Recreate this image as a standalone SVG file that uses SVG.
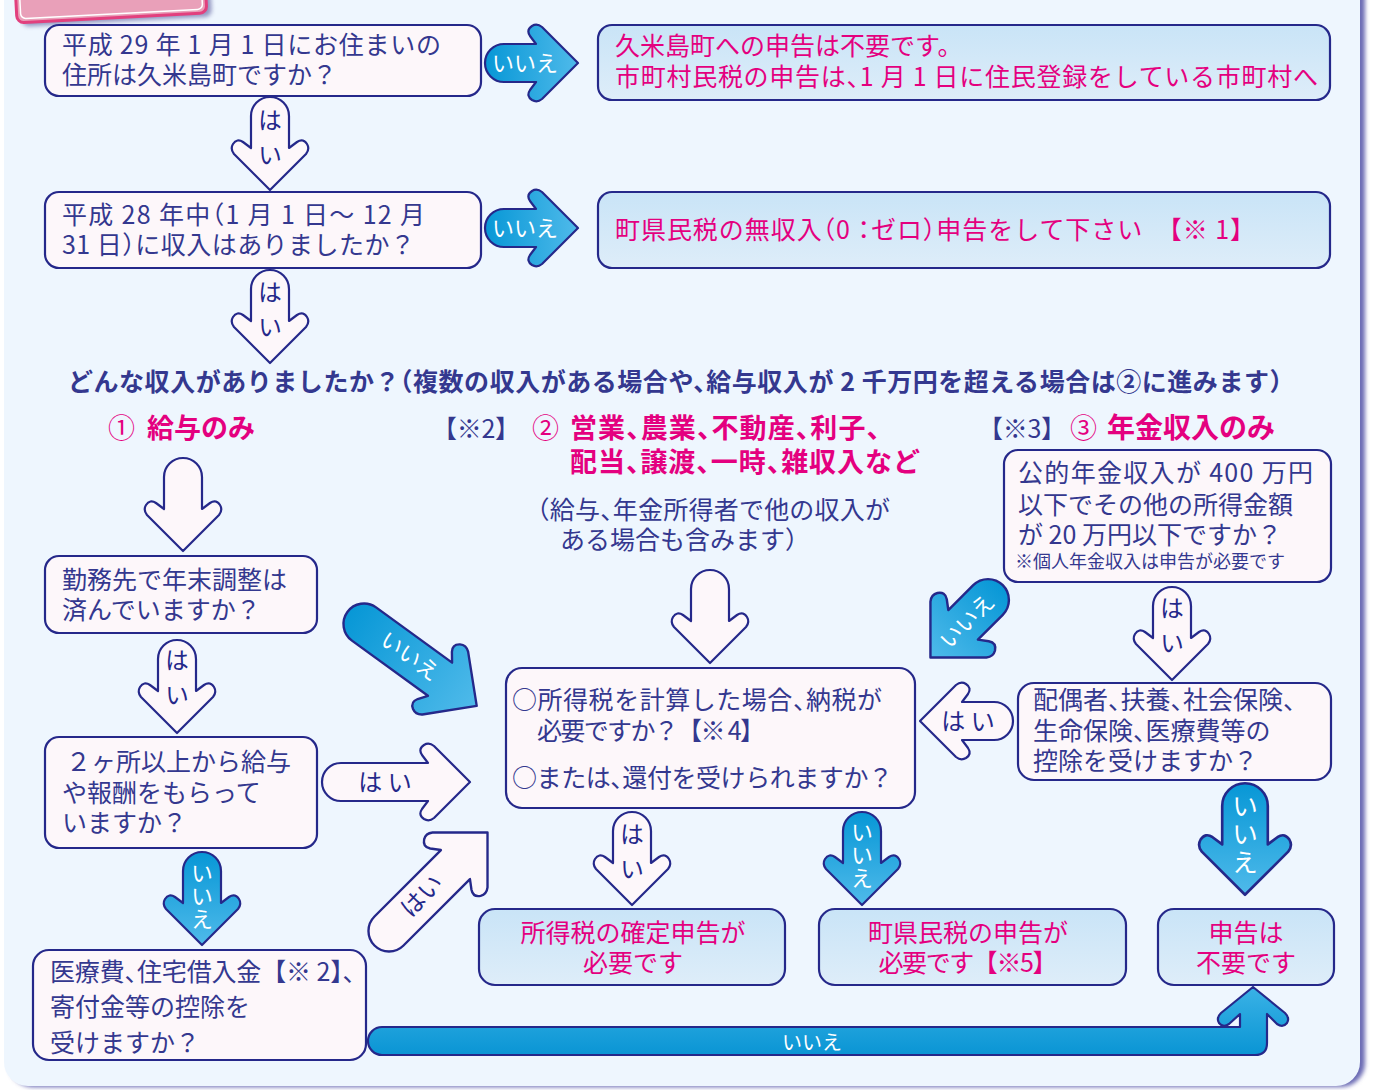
<svg xmlns="http://www.w3.org/2000/svg" width="1377" height="1090" viewBox="0 0 1377 1090">
<defs>
<linearGradient id="gb" x1="0" y1="0" x2="0" y2="1"><stop offset="0" stop-color="#0797d6"/><stop offset="1" stop-color="#4fbaea"/></linearGradient>
<linearGradient id="gbox" x1="0" y1="0" x2="0" y2="1"><stop offset="0" stop-color="#c9e4f7"/><stop offset="1" stop-color="#deedf9"/></linearGradient>
<linearGradient id="gbar" x1="0" y1="0" x2="0" y2="1"><stop offset="0" stop-color="#3ab2e6"/><stop offset="1" stop-color="#0a95d4"/></linearGradient>
<path id="dn" d="M-19,0 A19,19 0 0 1 19,0 V32 L27,26 Q33,22 37,28 Q40,33 36,38 L0,74 L-36,38 Q-40,33 -37,28 Q-33,22 -27,26 L-19,32 Z"/>
<path id="dnL" d="M-19,0 A19,19 0 0 1 19,0 V87 L27,81 Q33,77 37,83 Q40,88 36,93 L0,129 L-36,93 Q-40,88 -37,83 Q-33,77 -27,81 L-19,87 Z"/>
<filter id="sh" x="-10%" y="-10%" width="130%" height="150%"><feGaussianBlur stdDeviation="2"/></filter>
</defs>
<style>
.box{fill:#fdf7fa;stroke:#25288a;stroke-width:2.2}
.rbox{fill:url(#gbox);stroke:#25288a;stroke-width:2.2}
.hol{fill:#fdf7fa;stroke:#25288a;stroke-width:2.2;stroke-linejoin:round}
.blu{fill:url(#gb);stroke:#25288a;stroke-width:2.2;stroke-linejoin:round}
text{font-family:"Noto Sans CJK JP","Noto Sans CJK SC",sans-serif;font-size:25px;fill:#34388f;font-feature-settings:"halt"}
.nh{font-feature-settings:normal}
.p{fill:#e4007f}
.b{font-weight:700}
.w{fill:#ffffff;font-size:22px}
.c{text-anchor:middle}
.al{font-size:24px;text-anchor:middle;fill:#25288a}
.v{writing-mode:vertical-rl;text-anchor:start;font-size:24px;fill:#25288a;letter-spacing:11px}
.vw{writing-mode:vertical-rl;text-anchor:start;font-size:22px;fill:#ffffff;letter-spacing:1px}
</style>
<rect width="1377" height="1090" fill="#ffffff"/>
<g id="panel">
<rect x="9" y="-30" width="1356" height="1117" rx="24" fill="#6a6ab4" filter="url(#sh)"/>
<rect x="4" y="-30" width="1356" height="1116" rx="24" fill="#eef6fe"/>
</g>
<g id="tab" transform="rotate(-3 110 0)">
<rect x="21" y="-36" width="190" height="58" rx="7" fill="#4a4a90" opacity="0.55" filter="url(#sh)"/>
<rect x="16" y="-40" width="190" height="58" rx="7" fill="#e9a0b9" stroke="#e2407e" stroke-width="3"/>
<rect x="20" y="-36" width="182" height="50" rx="5" fill="none" stroke="#ffffff" stroke-width="1.5"/>
</g>

<g id="connectors">
<use href="#dn" class="hol" transform="translate(270,116)"/>
<use href="#dn" class="hol" transform="translate(270,289)"/>
<use href="#dn" class="hol" transform="translate(183,477)"/>
<use href="#dn" class="hol" transform="translate(177,659)"/>
<use href="#dn" class="hol" transform="translate(710,589)"/>
<use href="#dn" class="hol" transform="translate(632,831)"/>
<use href="#dn" class="hol" transform="translate(1172,606)"/>
<use href="#dn" class="blu" transform="translate(202,871)"/>
<use href="#dn" class="blu" transform="translate(862,831)"/>
<use href="#dn" class="blu" transform="translate(1245,806) scale(1.2)"/>
<use href="#dn" class="blu" transform="translate(504,63) rotate(-90)"/>
<use href="#dn" class="blu" transform="translate(504,228) rotate(-90)"/>
<use href="#dn" class="hol" transform="translate(994,721) rotate(90)"/>
<use href="#dnL" class="hol" transform="translate(341,782) rotate(-90)"/>
<use href="#dnL" class="blu" transform="translate(364,624) rotate(-54) scale(1.08)"/>
<use href="#dn" class="blu" transform="translate(988,600) rotate(45) scale(1.1)"/>
<use href="#dnL" class="hol" transform="translate(389,931) rotate(-135) scale(1.08)"/>
<path d="M382,1027 H1240 V1014 L1229,1024 Q1223,1028 1219,1023 Q1216,1018 1221,1013 L1253,987 L1285,1013 Q1290,1018 1287,1023 Q1283,1028 1277,1024 L1267,1014 V1043 Q1267,1055 1255,1055 H382 A14,14 0 0 1 382,1027 Z" fill="url(#gbar)" stroke="#25288a" stroke-width="2.2" stroke-linejoin="round"/>

<text class="v" x="270" y="108">はい</text>
<text class="v" x="270" y="280">はい</text>
<text class="v" x="177" y="648">はい</text>
<text class="v" x="632" y="822">はい</text>
<text class="v" x="1172" y="596">はい</text>
<text class="vw" x="202" y="862">いいえ</text>
<text class="vw" x="862" y="821">いいえ</text>
<text class="vw" x="1245" y="793" style="font-size:26px;letter-spacing:2px">いいえ</text>
<text class="w c" x="525" y="71">いいえ</text>
<text class="w c" x="525" y="236">いいえ</text>
<text class="al" x="968" y="730">は い</text>
<text class="al" x="385" y="791">は い</text>
<text class="w c" x="0" y="8" transform="translate(410,656) rotate(36)">いいえ</text>
<text class="w c" x="0" y="8" transform="translate(967,621) rotate(-45)">いいえ</text>
<text class="al" x="0" y="8" transform="translate(422,896) rotate(-45)">はい</text>
<text class="w c" x="812" y="1050" style="font-size:20px">いいえ</text>
</g>

<g id="q1"><rect class="box" x="45" y="25" width="436" height="71" rx="14"/>
<text><tspan x="62" y="54" textLength="379" lengthAdjust="spacing">平成 29 年 1 月 1 日にお住まいの</tspan><tspan x="62" y="84">住所は久米島町ですか？</tspan></text></g>
<g id="a1"><rect class="rbox" x="598" y="25" width="732" height="75" rx="14"/>
<text class="p"><tspan x="615" y="55">久米島町への申告は不要です。</tspan><tspan x="615" y="86" textLength="703" lengthAdjust="spacing">市町村民税の申告は、1 月 1 日に住民登録をしている市町村へ</tspan></text></g>
<g id="q2"><rect class="box" x="45" y="192" width="436" height="76" rx="14"/>
<text><tspan x="62" y="224" textLength="363" lengthAdjust="spacing">平成 28 年中（1 月 1 日～ 12 月</tspan><tspan x="62" y="254" textLength="353" lengthAdjust="spacing">31 日）に収入はありましたか？</tspan></text></g>
<g id="a2"><rect class="rbox" x="598" y="192" width="732" height="76" rx="14"/>
<text class="p" x="615" y="239" textLength="640" lengthAdjust="spacing">町県民税の無収入（0 ：ゼロ）申告をして下さい　<tspan class="nh">【※ 1】</tspan></text></g>

<g id="heading"><text class="b" x="68" y="391" textLength="1214" lengthAdjust="spacing">どんな収入がありましたか？（複数の収入がある場合や、給与収入が 2 千万円を超える場合は②に進みます）</text></g>
<g id="cat1"><text class="p" style="font-size:27px"><tspan x="108" y="438">①</tspan><tspan class="b" x="147" y="438">給与のみ</tspan></text></g>
<g id="cat2"><text class="nh" x="432" y="438" textLength="88" lengthAdjust="spacing">【※2】</text>
<text class="p" style="font-size:27px"><tspan x="532" y="438">②</tspan><tspan class="b" x="570" y="438" textLength="310" lengthAdjust="spacing">営業、農業、不動産、利子、</tspan><tspan class="b" x="570" y="472" textLength="350" lengthAdjust="spacing">配当、譲渡、一時、雑収入など</tspan></text>
<text><tspan x="537" y="519" textLength="353" lengthAdjust="spacing">（給与、年金所得者で他の収入が</tspan><tspan x="560" y="549">ある場合も含みます）</tspan></text></g>
<g id="cat3"><text class="nh" x="978" y="438" textLength="88" lengthAdjust="spacing">【※3】</text><text class="p"><tspan x="1070" y="438" style="font-size:27px">③</tspan><tspan class="b" x="1107" y="438" style="font-size:28px">年金収入のみ</tspan></text></g>

<g id="q-kinmu"><rect class="box" x="45" y="556" width="272" height="77" rx="14"/>
<text><tspan x="62" y="589">勤務先で年末調整は</tspan><tspan x="62" y="619">済んでいますか？</tspan></text></g>
<g id="q-2kasho"><rect class="box" x="45" y="737" width="272" height="111" rx="14"/>
<text><tspan x="66" y="771">２ヶ所以上から給与</tspan><tspan x="62" y="802">や報酬をもらって</tspan><tspan x="62" y="832">いますか？</tspan></text></g>
<g id="q-iryo"><rect class="box" x="33" y="950" width="333" height="110" rx="16"/>
<text><tspan x="50" y="981" textLength="305" lengthAdjust="spacing">医療費、住宅借入金<tspan class="nh">【※ 2】</tspan>、</tspan><tspan x="50" y="1016">寄付金等の控除を</tspan><tspan x="50" y="1052">受けますか？</tspan></text></g>
<g id="q-center"><rect class="box" x="506" y="668" width="409" height="140" rx="16"/>
<text><tspan x="512" y="709" textLength="370" lengthAdjust="spacing">○所得税を計算した場合、納税が</tspan><tspan x="537" y="740" textLength="228" lengthAdjust="spacing">必要ですか？<tspan class="nh">【※ 4】</tspan></tspan><tspan x="512" y="787" textLength="381" lengthAdjust="spacing">○または、還付を受けられますか？</tspan></text></g>
<g id="q-nenkin"><rect class="box" x="1004" y="450" width="327" height="132" rx="14"/>
<text><tspan x="1018" y="482" textLength="295" lengthAdjust="spacing">公的年金収入が 400 万円</tspan><tspan x="1018" y="514">以下でその他の所得金額</tspan><tspan x="1018" y="544">が 20 万円以下ですか？</tspan><tspan x="1015" y="568" style="font-size:18px">※個人年金収入は申告が必要です</tspan></text></g>
<g id="q-koujo"><rect class="box" x="1018" y="683" width="313" height="97" rx="16"/>
<text><tspan x="1033" y="709">配偶者、扶養、社会保険、</tspan><tspan x="1033" y="740">生命保険、医療費等の</tspan><tspan x="1033" y="770">控除を受けますか？</tspan></text></g>
<g id="r1"><rect class="rbox" x="479" y="909" width="306" height="76" rx="16"/>
<text class="p c"><tspan x="633" y="942">所得税の確定申告が</tspan><tspan x="633" y="972">必要です</tspan></text></g>
<g id="r2"><rect class="rbox" x="819" y="909" width="307" height="76" rx="16"/>
<text class="p c"><tspan x="968" y="942">町県民税の申告が</tspan><tspan x="968" y="972" textLength="179" lengthAdjust="spacing">必要です<tspan class="nh">【※5】</tspan></tspan></text></g>
<g id="r3"><rect class="rbox" x="1158" y="909" width="176" height="76" rx="16"/>
<text class="p c"><tspan x="1246" y="942">申告は</tspan><tspan x="1246" y="972">不要です</tspan></text></g>
</svg>
